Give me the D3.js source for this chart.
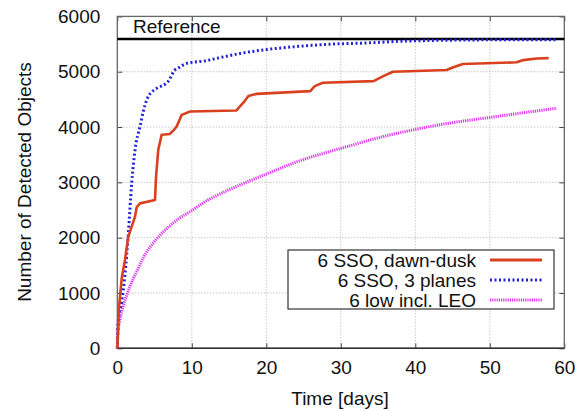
<!DOCTYPE html>
<html>
<head>
<meta charset="utf-8">
<script src="https://cdn.jsdelivr.net/npm/d3@7"></script>
<style>
  body { margin: 0; background: #fff; }
  text { font-family: "Liberation Sans", Arial, sans-serif; }
</style>
</head>
<body>
<div id="chart"></div>
<script>
// values (days, detected objects)
var dawnDuskDays   = [0, 0.2, 0.6, 1.03, 1.48, 2.38, 2.6, 3.05, 5.06, 5.2, 5.5, 5.95, 7.07, 7.6, 7.97, 8.64, 9.76, 16.0, 16.5, 17.1, 17.6, 18.7, 25.9, 26.5, 27.6, 34.4, 35.7, 37.0, 44.2, 45.1, 46.4, 53.6, 54.5, 56.3, 57.9];
var dawnDuskCount  = [0, 700, 1270, 1600, 2020, 2380, 2550, 2620, 2680, 3100, 3590, 3860, 3875, 3950, 4010, 4220, 4280, 4300, 4380, 4470, 4560, 4600, 4650, 4740, 4800, 4830, 4920, 5000, 5030, 5080, 5140, 5170, 5210, 5240, 5245];

var threePlanesDays  = [0, 0.13, 0.6, 1.03, 1.48, 1.93, 2.38, 3.05, 3.5, 3.95, 5.06, 5.3, 6.85, 7.75, 8.2, 9.3, 12, 13.3, 16.9, 20, 24.5, 29, 33.5, 37.9, 42.4, 48, 59];
var threePlanesCount = [0, 500, 850, 1330, 2080, 2980, 3590, 4010, 4290, 4490, 4680, 4700, 4830, 5033, 5070, 5150, 5200, 5240, 5340, 5400, 5460, 5500, 5520, 5550, 5565, 5575, 5580];

var lowInclDays  = [0, 0.1, 0.36, 0.8, 1.26, 1.7, 2.15, 2.8, 3.5, 4.8, 5.7, 6.6, 8, 10, 12.4, 13.3, 17.8, 20, 24.5, 31.2, 33.5, 42.4, 51.4, 59];
var lowInclCount = [0, 300, 520, 760, 960, 1120, 1260, 1440, 1640, 1900, 2040, 2160, 2320, 2490, 2700, 2760, 3030, 3150, 3390, 3660, 3750, 4020, 4200, 4340];

var referenceValue = 5590;
var xTicks = [0, 10, 20, 30, 40, 50, 60];
var yTicks = [0, 1000, 2000, 3000, 4000, 5000, 6000];
var legendLabels = ["6 SSO, dawn-dusk", "6 SSO, 3 planes", "6 low incl. LEO"];

var width = 586, height = 411;
var plotLeft = 117.3, plotRight = 564.3, plotTop = 16.4, plotBottom = 348.3;
var fontSize = 19;

var svg = d3.select("#chart").append("svg")
    .attr("width", width)
    .attr("height", height);

svg.append("rect").attr("width", width).attr("height", height).attr("fill", "#fff");

var x = d3.scaleLinear().domain([0, 60]).range([plotLeft, plotRight]);
var y = d3.scaleLinear().domain([0, 6000]).range([plotBottom, plotTop]);

// grid
svg.append("g").selectAll("line").data(xTicks.slice(1, -1)).enter().append("line")
    .attr("x1", function(d){ return x(d); }).attr("x2", function(d){ return x(d); })
    .attr("y1", plotTop).attr("y2", plotBottom)
    .attr("stroke", "#999").attr("stroke-width", 0.8).attr("stroke-dasharray", "1,2");
svg.append("g").selectAll("line").data(yTicks.slice(1, -1)).enter().append("line")
    .attr("y1", function(d){ return y(d); }).attr("y2", function(d){ return y(d); })
    .attr("x1", plotLeft).attr("x2", plotRight)
    .attr("stroke", "#999").attr("stroke-width", 0.8).attr("stroke-dasharray", "1,2");

// axes with inner ticks on all four sides
var axisBottom = d3.axisBottom(x).tickValues(xTicks).tickSizeInner(-5).tickSizeOuter(0).tickPadding(12).tickFormat(d3.format("d"));
var axisTop = d3.axisTop(x).tickValues(xTicks).tickSizeInner(-5).tickSizeOuter(0).tickFormat("");
var axisLeft = d3.axisLeft(y).tickValues(yTicks).tickSizeInner(-5).tickSizeOuter(0).tickPadding(17).tickFormat(d3.format("d"));
var axisRight = d3.axisRight(y).tickValues(yTicks).tickSizeInner(-5).tickSizeOuter(0).tickFormat("");

function styleAxis(g){
    g.select(".domain").remove();
    g.selectAll(".tick line").attr("stroke", "#444");
    g.selectAll("text").attr("font-size", fontSize).attr("fill", "#111")
        .attr("font-family", "Liberation Sans, Arial, sans-serif");
}
svg.append("g").attr("transform", "translate(0," + plotBottom + ")").call(axisBottom).call(styleAxis);
svg.append("g").attr("transform", "translate(0," + plotTop + ")").call(axisTop).call(styleAxis);
svg.append("g").attr("transform", "translate(" + plotLeft + ",0)").call(axisLeft).call(styleAxis);
svg.append("g").attr("transform", "translate(" + plotRight + ",0)").call(axisRight).call(styleAxis);

// frame
svg.append("rect")
    .attr("x", plotLeft).attr("y", plotTop)
    .attr("width", plotRight - plotLeft).attr("height", plotBottom - plotTop)
    .attr("fill", "none").attr("stroke", "#666").attr("stroke-width", 1.3);
svg.append("line").attr("x1", plotLeft).attr("x2", plotRight).attr("y1", plotBottom).attr("y2", plotBottom)
    .attr("stroke", "#333").attr("stroke-width", 1.5);

// reference line
svg.append("line")
    .attr("x1", plotLeft).attr("x2", plotRight)
    .attr("y1", y(referenceValue)).attr("y2", y(referenceValue))
    .attr("stroke", "#000").attr("stroke-width", 2.5);
svg.append("text").attr("x", 133).attr("y", 33).attr("font-size", fontSize).attr("fill", "#111").text("Reference");

function toPoints(ds, vs){ return ds.map(function(d, i){ return [d, vs[i]]; }); }

var lineLinear = d3.line().x(function(d){ return x(d[0]); }).y(function(d){ return y(d[1]); });
var lineSmooth = d3.line().x(function(d){ return x(d[0]); }).y(function(d){ return y(d[1]); })
    .curve(d3.curveMonotoneX);

svg.append("path").datum(toPoints(lowInclDays, lowInclCount))
    .attr("d", lineSmooth).attr("fill", "none")
    .attr("stroke", "#dd33ee").attr("stroke-width", 3).attr("stroke-dasharray", "1.2,1");

svg.append("path").datum(toPoints(threePlanesDays, threePlanesCount))
    .attr("d", lineSmooth).attr("fill", "none")
    .attr("stroke", "#2222dd").attr("stroke-width", 3).attr("stroke-dasharray", "2,2.5");

svg.append("path").datum(toPoints(dawnDuskDays, dawnDuskCount))
    .attr("d", lineLinear).attr("fill", "none")
    .attr("stroke", "#d9411e").attr("stroke-width", 2.6).attr("stroke-linejoin", "round");

// legend
var legend = svg.append("g");
legend.append("rect").attr("x", 288).attr("y", 250).attr("width", 266).attr("height", 59)
    .attr("fill", "#fff").attr("stroke", "#333").attr("stroke-width", 1.2);
var legendStyles = [
    {stroke: "#d9411e", width: 3, dash: null},
    {stroke: "#2222dd", width: 3, dash: "2,2.5"},
    {stroke: "#dd33ee", width: 3, dash: "1.2,1"}
];
legendLabels.forEach(function(label, i){
    var ly = 260 + i * 20;
    legend.append("text").attr("x", 476).attr("y", ly + 7)
        .attr("text-anchor", "end").attr("font-size", fontSize).attr("fill", "#111").text(label);
    var l = legend.append("line").attr("x1", 490).attr("x2", 542).attr("y1", ly).attr("y2", ly)
        .attr("stroke", legendStyles[i].stroke).attr("stroke-width", legendStyles[i].width);
    if (legendStyles[i].dash) l.attr("stroke-dasharray", legendStyles[i].dash);
});

// axis titles
svg.append("text").attr("x", 340).attr("y", 405).attr("text-anchor", "middle")
    .attr("font-size", fontSize).attr("fill", "#111").text("Time [days]");
svg.append("text").attr("transform", "translate(31,182) rotate(-90)").attr("text-anchor", "middle")
    .attr("font-size", fontSize).attr("fill", "#111").text("Number of Detected Objects");
</script>
</body>
</html>
